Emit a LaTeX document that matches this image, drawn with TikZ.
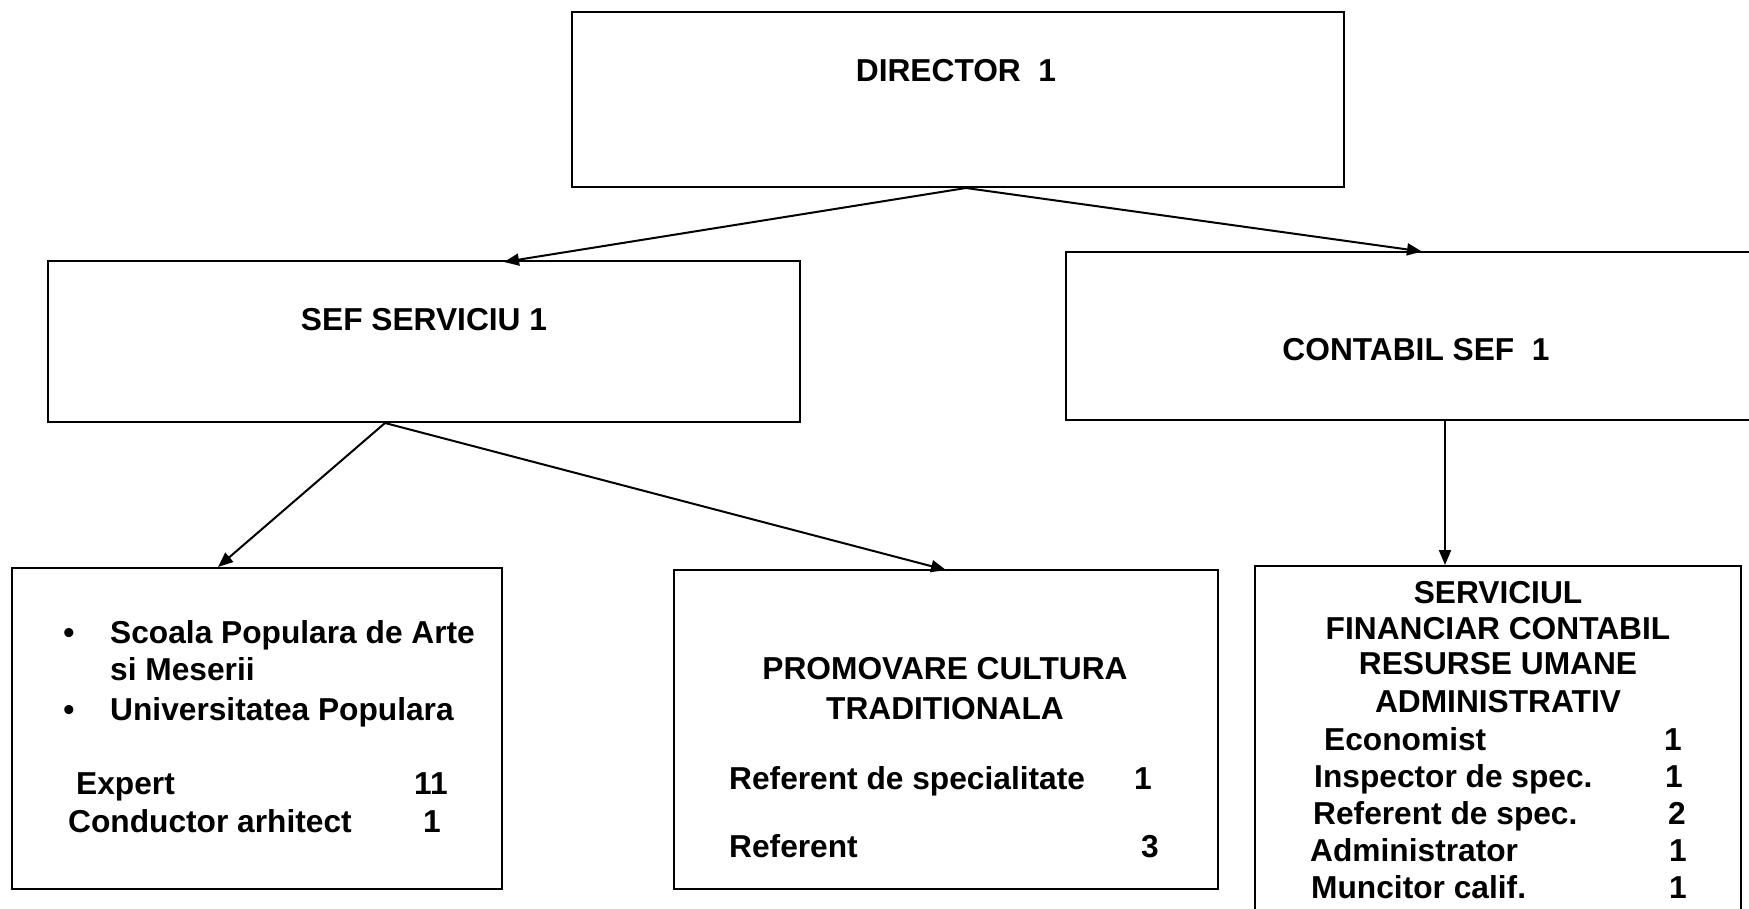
\documentclass[tikz,border=0pt]{standalone}
\usepackage{fontspec}
\setmainfont{Liberation Sans}
\usetikzlibrary{arrows.meta,calc}
\begin{document}
\begin{tikzpicture}[x=1pt,y=-1pt,
  box/.style={draw, line width=2pt, inner sep=0pt, rectangle},
  txt/.style={inner sep=0pt, font=\fontsize{31.7}{37}\selectfont\bfseries},
  conn/.style={line width=2pt, -{Triangle[length=15pt,width=12pt]}}]
\clip (0,0) rectangle (1749,909);
% boxes
\node[box, minimum width=772pt, minimum height=175pt] (dir) at (958,99.5) {};
\node[box, minimum width=752pt, minimum height=161pt] (sef) at (424,341.5) {};
\node[box, minimum width=694pt, minimum height=167pt] (cont) at (1413,336) {};
\node[box, minimum width=490pt, minimum height=321pt] (b1) at (257,728.5) {};
\node[box, minimum width=544pt, minimum height=319pt] (b2) at (946,729.5) {};
\node[box, minimum width=486pt, minimum height=364pt] (b3) at (1498,748) {};
% titles
\node[txt, anchor=base] (tdir) at (956,82) {DIRECTOR\ \ 1};
\node[txt, anchor=base] (tsef) at (424,331) {SEF SERVICIU 1};
\node[txt, anchor=base] (tcont) at (1416,361) {CONTABIL SEF\ \ 1};
% box 1
\node[txt, anchor=base] (bul1) at (69,643) {\textbullet};
\node[txt, anchor=base west] (l11) at (110,643) {Scoala Populara de Arte};
\node[txt, anchor=base west] (l12) at (110,680) {si Meserii};
\node[txt, anchor=base] (bul2) at (69,720) {\textbullet};
\node[txt, anchor=base west] (l13) at (110,720) {Universitatea Populara};
\node[txt, anchor=base west] (l14) at (76,794) {Expert};
\node[txt, anchor=base] (n14) at (431,794) {11};
\node[txt, anchor=base west] (l15) at (68,832) {Conductor arhitect};
\node[txt, anchor=base] (n15) at (432,832) {1};
% box 2
\node[txt, anchor=base] (l21) at (945,679) {PROMOVARE CULTURA};
\node[txt, anchor=base] (l22) at (945,719) {TRADITIONALA};
\node[txt, anchor=base west] (l23) at (729,789) {Referent de specialitate};
\node[txt, anchor=base] (n23) at (1143,789) {1};
\node[txt, anchor=base west] (l24) at (729,857) {Referent};
\node[txt, anchor=base] (n24) at (1150,857) {3};
% box 3
\node[txt, anchor=base] (l31) at (1498,603) {SERVICIUL};
\node[txt, anchor=base] (l32) at (1498,639) {FINANCIAR CONTABIL};
\node[txt, anchor=base] (l33) at (1498,674) {RESURSE UMANE};
\node[txt, anchor=base] (l34) at (1498,712) {ADMINISTRATIV};
\node[txt, anchor=base west] (l35) at (1324,750) {Economist};
\node[txt, anchor=base] (n35) at (1673,750) {1};
\node[txt, anchor=base west] (l36) at (1314,787) {Inspector de spec.};
\node[txt, anchor=base] (n36) at (1674,787) {1};
\node[txt, anchor=base west] (l37) at (1313,824) {Referent de spec.};
\node[txt, anchor=base] (n37) at (1677,824) {2};
\node[txt, anchor=base west] (l38) at (1310,861) {Administrator};
\node[txt, anchor=base] (n38) at (1678,861) {1};
\node[txt, anchor=base west] (l39) at (1311,898) {Muncitor calif.};
\node[txt, anchor=base] (n39) at (1678,898) {1};
% connectors
\coordinate (dirout) at ([xshift=8pt]dir.south);
\coordinate (sefout) at ([xshift=-39pt]sef.south);
\draw[conn] (dirout) -- ([xshift=80pt,yshift=-2pt]sef.north);
\draw[conn] (dirout) -- ([xshift=9pt]cont.north);
\draw[conn] (sefout) -- ([xshift=-39pt]b1.north);
\draw[conn] (sefout) -- ([yshift=-1pt]b2.north);
\draw[conn] ([xshift=32pt]cont.south) -- ([xshift=-53pt]b3.north);
\end{tikzpicture}
\end{document}
